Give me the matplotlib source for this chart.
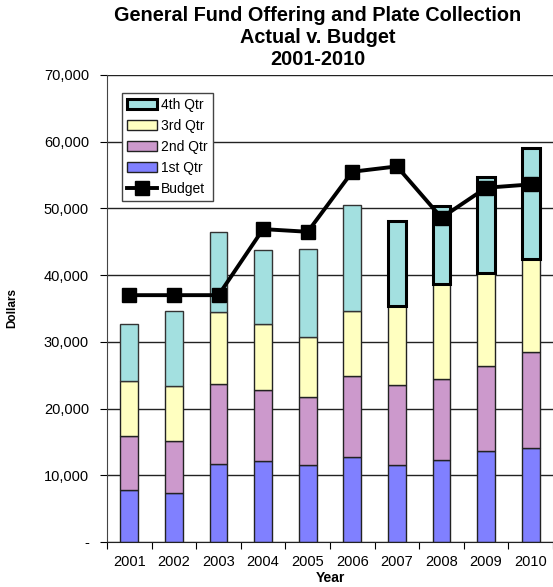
import matplotlib
matplotlib.use("Agg")
import matplotlib.pyplot as plt
from matplotlib.ticker import FuncFormatter
import numpy as np

plt.rcParams['font.family'] = ['Liberation Sans', 'DejaVu Sans']

years = ["2001", "2002", "2003", "2004", "2005", "2006", "2007", "2008", "2009", "2010"]
q1 = [7750, 7350, 11700, 12100, 11600, 12750, 11500, 12350, 13600, 14050]
q2 = [8150, 7850, 12050, 10700, 10150, 12150, 12000, 12050, 12750, 14400]
q3 = [8300, 8250, 10750, 9850, 8950, 9700, 11850, 14200, 13900, 13900]
q4 = [8450, 11250, 11900, 11100, 13250, 15900, 12800, 11700, 14500, 16750]
budget = [37000, 37000, 37000, 46900, 46500, 55500, 56300, 48600, 53100, 53600]

c1, c2, c3, c4 = "#8080FF", "#CC99CC", "#FFFFC0", "#A3E0E0"

fig = plt.figure(figsize=(5.53, 5.87), dpi=100)
ax = fig.add_axes([107 / 553, 1 - 542 / 587, 446 / 553, 467 / 587])

x = np.arange(len(years))
w = 0.4
b2 = np.array(q1)
b3 = b2 + np.array(q2)
b4 = b3 + np.array(q3)

ax.bar(x, q1, w, color=c1, edgecolor="#222222", linewidth=1, zorder=2, label="1st Qtr")
ax.bar(x, q2, w, bottom=b2, color=c2, edgecolor="#222222", linewidth=1, zorder=2, label="2nd Qtr")
ax.bar(x, q3, w, bottom=b3, color=c3, edgecolor="#222222", linewidth=1, zorder=2, label="3rd Qtr")
# last four years of 4th Qtr have heavy outlines in the original
lw4 = [1, 1, 1, 1, 1, 1, 2.2, 2.2, 2.2, 2.2]
ec4 = ["#333333"] * 6 + ["black"] * 4
ax.bar(x, q4, w, bottom=b4, color=c4, edgecolor=ec4, linewidth=lw4, zorder=2)
h4 = plt.Rectangle((0, 0), 1, 1, facecolor=c4, edgecolor="black", linewidth=2.2)
ax.plot(x, budget, color="black", linewidth=2.8, marker="s", markersize=9.5, zorder=3, label="Budget")

ax.set_xlim(-0.5, len(years) - 0.5)
ax.set_ylim(0, 70000)
ax.set_yticks(range(0, 70001, 10000))
ax.yaxis.set_major_formatter(FuncFormatter(lambda v, p: "-" if v == 0 else f"{int(v):,}"))
ax.set_xticks(np.arange(-0.5, len(years), 1), minor=False)
ax.set_xticklabels([])
ax.set_xticks(x, minor=True)
ax.set_xticklabels(years, minor=True)
ax.tick_params(axis="x", which="minor", length=0, pad=9, labelsize=10.5)
ax.tick_params(axis="x", which="major", length=5, direction="out")
ax.tick_params(axis="y", length=5, direction="out", labelsize=10.5, pad=8)
ax.grid(axis="y", color="#222222", linewidth=1, zorder=0)
for s in ["top", "right"]:
    ax.spines[s].set_visible(False)
ax.spines["left"].set_color("#444444")
ax.spines["bottom"].set_color("#222222")

ax.set_ylabel("Dollars", fontsize=8.5, fontweight="bold")
ax.yaxis.set_label_coords(-89 / 446, 0.5)
ax.set_xlabel("Year", fontsize=10, fontweight="bold", labelpad=2)
fig.text(0.574, 0.989, "General Fund Offering and Plate Collection\nActual v. Budget\n2001-2010",
         ha="center", va="top", fontsize=14.3, fontweight="bold", linespacing=1.17)

handles, labels = ax.get_legend_handles_labels()
hd = dict(zip(labels, handles))
leg = ax.legend([h4, hd["3rd Qtr"], hd["2nd Qtr"], hd["1st Qtr"], hd["Budget"]],
                ["4th Qtr", "3rd Qtr", "2nd Qtr", "1st Qtr", "Budget"],
                loc="upper left", bbox_to_anchor=(0.0345, 0.961), borderaxespad=0,
                fontsize=10, fancybox=False, edgecolor="#444444", framealpha=1,
                handlelength=2.15, handleheight=0.75, labelspacing=0.5,
                borderpad=0.35, handletextpad=0.3)
leg.get_frame().set_linewidth(1)
leg.set_zorder(5)

plt.savefig("out.png", dpi=100)
